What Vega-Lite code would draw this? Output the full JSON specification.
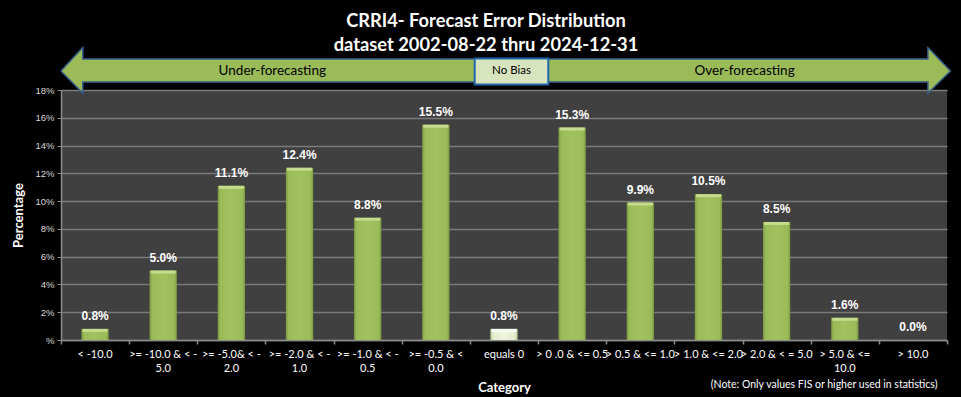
{
  "$schema": "https://vega.github.io/schema/vega-lite/v6.json",
  "width": 886,
  "height": 250,
  "autosize": {"type": "none"},
  "padding": {"left": 61, "top": 90, "right": 14, "bottom": 57},
  "background": "#000000",
  "config": {"view": {"fill": "#404040", "stroke": null}, "font": "Lato"},
  "title": {
    "text": ["CRRI4- Forecast Error Distribution", "dataset 2002-08-22  thru 2024-12-31"],
    "color": "#ffffff",
    "font": "Lato",
    "fontSize": 18.3,
    "fontWeight": "bold",
    "lineHeight": 24,
    "anchor": "middle",
    "dx": -18,
    "offset": -11
  },
  "datasets": {
    "bars": [
      {"category": "< -10.0", "pct": 0.008},
      {"category": ">= -10.0 & < -5.0", "pct": 0.05},
      {"category": ">= -5.0& < -2.0", "pct": 0.111},
      {"category": ">= -2.0 & < -1.0", "pct": 0.124},
      {"category": ">= -1.0 & < -0.5", "pct": 0.088},
      {"category": ">= -0.5 & < 0.0", "pct": 0.155},
      {"category": "equals 0", "pct": 0.008},
      {"category": "> 0 .0 & <= 0.5", "pct": 0.153},
      {"category": "> 0.5 & <= 1.0", "pct": 0.099},
      {"category": "> 1.0 & <= 2.0", "pct": 0.105},
      {"category": "> 2.0 & < = 5.0", "pct": 0.085},
      {"category": "> 5.0 & <= 10.0", "pct": 0.016},
      {"category": "> 10.0", "pct": 0.0}
    ],
    "arrow": [
      {"i": 1, "ax": 0.0, "ay": 0.1937},
      {"i": 2, "ax": 0.32, "ay": 0.2106},
      {"i": 3, "ax": 0.32, "ay": 0.2023},
      {"i": 4, "ax": 12.72, "ay": 0.2023},
      {"i": 5, "ax": 12.72, "ay": 0.2106},
      {"i": 6, "ax": 13.05, "ay": 0.1937},
      {"i": 7, "ax": 12.72, "ay": 0.1778},
      {"i": 8, "ax": 12.72, "ay": 0.1858},
      {"i": 9, "ax": 0.32, "ay": 0.1858},
      {"i": 10, "ax": 0.32, "ay": 0.1778},
      {"i": 11, "ax": 0.0, "ay": 0.1937}
    ],
    "box": [{"x1": 6.07, "x2": 7.15, "y1": 0.184, "y2": 0.2027, "label": "No  Bias", "lx": 6.61, "ly": 0.1937}],
    "sides": [
      {"label": "Under-forecasting", "lx": 3.1, "ly": 0.1937},
      {"label": "Over-forecasting", "lx": 10.03, "ly": 0.1937}
    ],
    "note": [{"label": "(Note: Only values FIS or higher used in statistics)", "lx": 12.86, "ly": -0.0325}]
  },
  "resolve": {"scale": {"x": "independent", "y": "independent"}},
  "layer": [
    {
      "data": {"name": "bars"},
      "encoding": {
        "x": {
          "field": "category",
          "type": "nominal",
          "sort": null,
          "scale": {"paddingInner": 0.6, "paddingOuter": 0.3},
          "axis": {
            "title": "Category",
            "titleColor": "#ffffff",
            "titleFontSize": 13,
            "titleFontWeight": "bold",
            "titlePadding": 8,
            "labelColor": "#ffffff",
            "labelFontSize": 11,
            "labelAngle": 0,
            "labelPadding": 8,
            "labelLineHeight": 14,
            "labelOverlap": false,
            "labelBound": false,
            "labelLimit": 0,
            "ticks": false,
            "domainColor": "#8c8c8c",
            "domainWidth": 1.5,
            "grid": false,
            "labelExpr": "datum.value == '>= -10.0 & < -5.0' ? ['>= -10.0 & < -', '5.0'] : datum.value == '>= -5.0& < -2.0' ? ['>= -5.0& < -', '2.0'] : datum.value == '>= -2.0 & < -1.0' ? ['>= -2.0 & < -', '1.0'] : datum.value == '>= -1.0 & < -0.5' ? ['>= -1.0 & < -', '0.5'] : datum.value == '>= -0.5 & < 0.0' ? ['>= -0.5 & <', '0.0'] : datum.value == '> 5.0 & <= 10.0' ? ['> 5.0 & <=', '10.0'] : datum.value"
          }
        },
        "y": {
          "field": "pct",
          "type": "quantitative",
          "scale": {"domain": [0, 0.18], "nice": false},
          "axis": {
            "title": "Percentage",
            "titleColor": "#ffffff",
            "titleFontSize": 13,
            "titleFontWeight": "bold",
            "titlePadding": 9,
            "values": [0, 0.02, 0.04, 0.06, 0.08, 0.1, 0.12, 0.14, 0.16, 0.18],
            "labelExpr": "datum.value == 0 ? '%' : format(datum.value, '.0%')",
            "labelColor": "#d9d9d9",
            "labelFont": "Liberation Sans",
            "labelFontSize": 9.5,
            "labelPadding": 3,
            "tickSize": 4,
            "tickColor": "#8c8c8c",
            "domainColor": "#8c8c8c",
            "domainWidth": 1.5,
            "gridColor": "#7a7a7a",
            "gridWidth": 1.5
          }
        }
      },
      "layer": [
        {
          "mark": {"type": "bar"},
          "encoding": {
            "color": {
              "condition": {
                "test": "datum.category === 'equals 0'",
                "value": {"gradient": "linear", "x1": 0, "x2": 1, "y1": 0, "y2": 0,
                  "stops": [{"offset": 0, "color": "#b4c98a"}, {"offset": 0.1, "color": "#e3ecd0"}, {"offset": 0.5, "color": "#eef4e0"}, {"offset": 0.9, "color": "#e3ecd0"}, {"offset": 1, "color": "#b4c98a"}]}
              },
              "value": {"gradient": "linear", "x1": 0, "x2": 1, "y1": 0, "y2": 0,
                "stops": [{"offset": 0, "color": "#7d9a42"}, {"offset": 0.1, "color": "#9bbb59"}, {"offset": 0.5, "color": "#a2c260"}, {"offset": 0.9, "color": "#9bbb59"}, {"offset": 1, "color": "#7d9a42"}]}
            }
          }
        },
        {
          "transform": [{"filter": "datum.pct > 0"}],
          "mark": {"type": "tick", "thickness": 3, "size": 25, "yOffset": 1.5, "opacity": 1},
          "encoding": {
            "color": {
              "condition": {"test": "datum.category === 'equals 0'", "value": "#f7faef"},
              "value": "#c6db8e"
            }
          }
        },
        {
          "mark": {"type": "text", "color": "#ffffff", "font": "Liberation Sans", "fontSize": 12, "fontWeight": "bold", "baseline": "middle", "dy": -13},
          "encoding": {"text": {"field": "pct", "type": "quantitative", "format": ".1%"}}
        }
      ]
    },
    {
      "encoding": {
        "x": {"type": "quantitative"},
        "y": {"type": "quantitative"}
      },
      "layer": [
        {
          "data": {"name": "arrow"},
          "mark": {"type": "line", "fill": "#9bbb59", "stroke": "#3a5f8c", "strokeWidth": 1.5, "interpolate": "linear", "clip": false},
          "encoding": {
            "x": {"field": "ax", "type": "quantitative", "scale": {"domain": [0, 13], "nice": false, "zero": false},
              "axis": {"orient": "bottom", "values": [0, 1, 2, 3, 4, 5, 6, 7, 8, 9, 10, 11, 12, 13], "labels": false, "domain": false, "grid": false, "title": null, "tickSize": 4, "tickColor": "#8c8c8c", "tickWidth": 1.5}},
            "y": {"field": "ay", "type": "quantitative", "scale": {"domain": [0, 0.18], "nice": false}, "axis": null},
            "order": {"field": "i", "type": "quantitative"}
          }
        },
        {
          "data": {"name": "box"},
          "mark": {"type": "rect", "fill": "#d7e4bd", "stroke": "#1f68ad", "strokeWidth": 2},
          "encoding": {
            "x": {"field": "x1", "type": "quantitative", "scale": {"domain": [0, 13], "nice": false, "zero": false},
              "axis": {"orient": "bottom", "values": [0, 1, 2, 3, 4, 5, 6, 7, 8, 9, 10, 11, 12, 13], "labels": false, "domain": false, "grid": false, "title": null, "tickSize": 4, "tickColor": "#8c8c8c", "tickWidth": 1.5}},
            "x2": {"field": "x2"},
            "y": {"field": "y1", "type": "quantitative", "scale": {"domain": [0, 0.18], "nice": false}, "axis": null},
            "y2": {"field": "y2"}
          }
        },
        {
          "data": {"name": "box"},
          "mark": {"type": "text", "color": "#000000", "fontSize": 11.5, "baseline": "middle", "align": "center"},
          "encoding": {
            "x": {"field": "lx", "type": "quantitative", "scale": {"domain": [0, 13], "nice": false, "zero": false},
              "axis": {"orient": "bottom", "values": [0, 1, 2, 3, 4, 5, 6, 7, 8, 9, 10, 11, 12, 13], "labels": false, "domain": false, "grid": false, "title": null, "tickSize": 4, "tickColor": "#8c8c8c", "tickWidth": 1.5}},
            "y": {"field": "ly", "type": "quantitative", "scale": {"domain": [0, 0.18], "nice": false}, "axis": null},
            "text": {"field": "label"}
          }
        },
        {
          "data": {"name": "sides"},
          "mark": {"type": "text", "color": "#000000", "fontSize": 13.5, "baseline": "middle", "align": "center"},
          "encoding": {
            "x": {"field": "lx", "type": "quantitative", "scale": {"domain": [0, 13], "nice": false, "zero": false},
              "axis": {"orient": "bottom", "values": [0, 1, 2, 3, 4, 5, 6, 7, 8, 9, 10, 11, 12, 13], "labels": false, "domain": false, "grid": false, "title": null, "tickSize": 4, "tickColor": "#8c8c8c", "tickWidth": 1.5}},
            "y": {"field": "ly", "type": "quantitative", "scale": {"domain": [0, 0.18], "nice": false}, "axis": null},
            "text": {"field": "label"}
          }
        },
        {
          "data": {"name": "note"},
          "mark": {"type": "text", "color": "#ffffff", "fontSize": 10.5, "baseline": "middle", "align": "right"},
          "encoding": {
            "x": {"field": "lx", "type": "quantitative", "scale": {"domain": [0, 13], "nice": false, "zero": false},
              "axis": {"orient": "bottom", "values": [0, 1, 2, 3, 4, 5, 6, 7, 8, 9, 10, 11, 12, 13], "labels": false, "domain": false, "grid": false, "title": null, "tickSize": 4, "tickColor": "#8c8c8c", "tickWidth": 1.5}},
            "y": {"field": "ly", "type": "quantitative", "scale": {"domain": [0, 0.18], "nice": false}, "axis": null},
            "text": {"field": "label"}
          }
        }
      ]
    }
  ]
}
